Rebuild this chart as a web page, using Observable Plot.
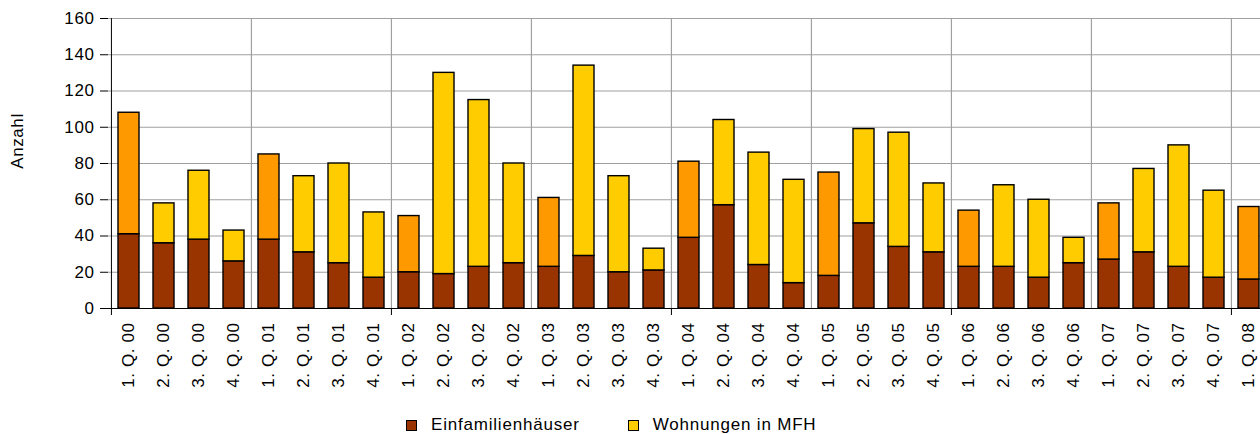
<!DOCTYPE html>
<html>
<head>
<meta charset="utf-8">
<script src="https://cdn.jsdelivr.net/npm/d3@7"></script>
<script src="https://cdn.jsdelivr.net/npm/@observablehq/plot@0.6"></script>
<style>
  html, body { margin: 0; padding: 0; background: #fff; }
  #wrap { position: relative; width: 1260px; height: 434px; overflow: hidden; font-family: "Liberation Sans", Arial, sans-serif; }
  #ylabel { position: absolute; left: 18px; top: 141px; transform: translate(-50%, -50%) rotate(-90deg); font-size: 17px; letter-spacing: 0.6px; color: #000; white-space: nowrap; }
  #legend { position: absolute; top: 415px; left: 406px; display: flex; align-items: center; font-size: 17px; letter-spacing: 0.8px; color: #000; }
  .sw { width: 11px; height: 11px; border: 1px solid #000; display: inline-block; margin-right: 14px; box-sizing: border-box; }
  .item { display: flex; align-items: center; margin-right: 48px; }
</style>
</head>
<body>
<div id="wrap">
  <div id="chart"></div>
  <div id="ylabel">Anzahl</div>
  <div id="legend"></div>
</div>
<script>
const quarters = [
  "1. Q. 00","2. Q. 00","3. Q. 00","4. Q. 00",
  "1. Q. 01","2. Q. 01","3. Q. 01","4. Q. 01",
  "1. Q. 02","2. Q. 02","3. Q. 02","4. Q. 02",
  "1. Q. 03","2. Q. 03","3. Q. 03","4. Q. 03",
  "1. Q. 04","2. Q. 04","3. Q. 04","4. Q. 04",
  "1. Q. 05","2. Q. 05","3. Q. 05","4. Q. 05",
  "1. Q. 06","2. Q. 06","3. Q. 06","4. Q. 06",
  "1. Q. 07","2. Q. 07","3. Q. 07","4. Q. 07",
  "1. Q. 08"
];
const einfamilienhaeuser = [41,36,38,26, 38,31,25,17, 20,19,23,25, 23,29,20,21, 39,57,24,14, 18,47,34,31, 23,23,17,25, 27,31,23,17, 16];
const wohnungenMFH       = [67,22,38,17, 47,42,55,36, 31,111,92,55, 38,105,53,12, 42,47,62,57, 57,52,63,38, 31,45,43,14, 31,46,67,48, 40];
const seriesNames = ["Einfamilienhäuser", "Wohnungen in MFH"];
const yTicks = [0,20,40,60,80,100,120,140,160];

const colEFH = "#993300", colMFH = "#FFCC00", colMFHq1 = "#FF9900";
const gridColor = "#a0a0a0";

const rows = [];
quarters.forEach((q, i) => {
  rows.push({q, series: seriesNames[0], value: einfamilienhaeuser[i], fill: colEFH});
  rows.push({q, series: seriesNames[1], value: wohnungenMFH[i], fill: q.startsWith("1.") ? colMFHq1 : colMFH});
});

const W = 1260, H = 410, mL = 108, mT = 18, mB = 102;
const xRange = [mL, mL + 1160];
const step = (xRange[1] - xRange[0]) / quarters.length;
const yearStarts = quarters.filter((q, i) => i > 0 && i % 4 === 0);
const twoYearStarts = quarters.filter((q, i) => i % 8 === 0);

const chart = Plot.plot({
  width: W, height: H,
  marginLeft: mL, marginTop: mT, marginBottom: mB, marginRight: 0,
  style: {fontFamily: "Liberation Sans, Arial, sans-serif", fontSize: "17px", color: "#000", background: "#fff", letterSpacing: "0.6px"},
  x: {domain: quarters, range: xRange, paddingInner: 0.4, paddingOuter: 0.2},
  y: {domain: [0, 160], range: [H - mB, mT]},
  marks: [
    Plot.ruleY(yTicks, {stroke: gridColor, strokeWidth: 1.2}),
    Plot.ruleX(yearStarts, {x: d => d, dx: -step / 2, stroke: gridColor, strokeWidth: 1.2}),
    Plot.barY(rows, {x: "q", y: "value", fill: "fill", stroke: "#000", strokeWidth: 1.4, order: null}),
    Plot.ruleY([0], {stroke: "#000", strokeWidth: 1}),
    Plot.ruleX([quarters[0]], {x: d => d, dx: -step / 2, stroke: "#000", strokeWidth: 1}),
    Plot.axisY({ticks: yTicks, tickSize: 8, tickPadding: 6, label: null, stroke: "#000"}),
    Plot.axisX({ticks: twoYearStarts, tickSize: 7, tickFormat: () => "", dx: -step / 2, label: null, stroke: "#000"}),
    Plot.axisX({tickSize: 0, tickPadding: 14, tickRotate: -90, label: null})
  ]
});
document.getElementById("chart").appendChild(chart);

const legend = document.getElementById("legend");
[[seriesNames[0], colEFH], [seriesNames[1], colMFH]].forEach(([name, c]) => {
  const it = document.createElement("div");
  it.className = "item";
  const sw = document.createElement("span");
  sw.className = "sw";
  sw.style.background = c;
  it.appendChild(sw);
  it.appendChild(document.createTextNode(name));
  legend.appendChild(it);
});
</script>
</body>
</html>
